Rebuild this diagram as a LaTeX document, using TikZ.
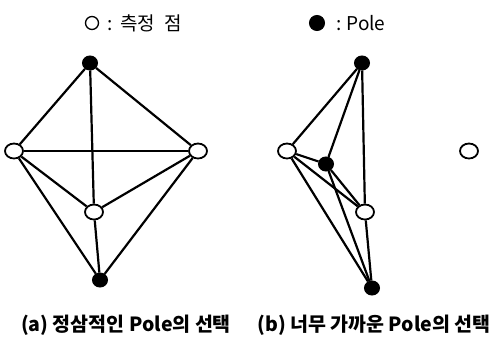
\documentclass[tikz,border=0pt]{standalone}
\usepackage{fontspec}
\setmainfont{Noto Sans CJK KR}
\usetikzlibrary{shapes.geometric}
\tikzset{
  meas/.style={ellipse,draw=black,fill=white,line width=1.8pt,minimum width=18pt,minimum height=15pt,inner sep=0pt},
  pole/.style={ellipse,draw=black,fill=black,line width=1pt,minimum width=15pt,minimum height=14pt,inner sep=0pt},
  edge/.style={line width=2.2pt,black},
  legend/.style={font=\fontsize{19}{21}\selectfont,inner sep=0pt,anchor=west},
  caption/.style={font=\bfseries\fontsize{19.5}{22}\selectfont,inner sep=0pt}
}
\begin{document}
\begin{tikzpicture}[x=1pt,y=-1pt]
\useasboundingbox[fill=white] (0,0) rectangle (493,338);
% legend
\node[meas,minimum width=13pt,minimum height=13pt,line width=1.3pt] (lm) at (92,23) {};
\node[legend] (lmt) at (107,23) {:\hspace{8pt}측정\hspace{9pt}점};
\node[pole,minimum width=15pt,minimum height=15pt] (lp) at (317,23) {};
\node[legend] (lpt) at (336,23) {:\hspace{5pt}Pole};
% (a)
\node[pole] (aT) at (90,63) {};
\node[meas] (aL) at (14,151) {};
\node[meas] (aR) at (198,151) {};
\node[meas] (aM) at (94,212) {};
\node[pole] (aB) at (100,280) {};
\draw[edge] (aT) -- (aL);
\draw[edge] (aT) -- (aR);
\draw[edge] (aT) -- (aM);
\draw[edge] (aL) -- (aR);
\draw[edge] (aL) -- (aM);
\draw[edge] (aR) -- (aM);
\draw[edge] (aL) -- (aB);
\draw[edge] (aR) -- (aB);
\draw[edge] (aM) -- (aB);
% (b)
\node[pole] (bT) at (362,63) {};
\node[meas] (bL) at (287,151) {};
\node[pole] (bI) at (326,164) {};
\node[meas] (bM) at (365,212) {};
\node[pole] (bB) at (372,288) {};
\node[meas] (bX) at (469,151) {};
\draw[edge] (bT) -- (bL);
\draw[edge] (bT) -- (bI);
\draw[edge] (bT) -- (bM);
\draw[edge] (bL) -- (bI);
\draw[edge] (bL) -- (bM);
\draw[edge] (bL) -- (bB);
\draw[edge] (bI) -- (bM);
\draw[edge] (bI) -- (bB);
\draw[edge] (bM) -- (bB);
% captions
\node[caption] (ca) at (126,325) {(a) 정삼적인 Pole의 선택};
\node[caption] (cb) at (374,325) {(b) 너무 가까운 Pole의 선택};
\end{tikzpicture}
\end{document}
